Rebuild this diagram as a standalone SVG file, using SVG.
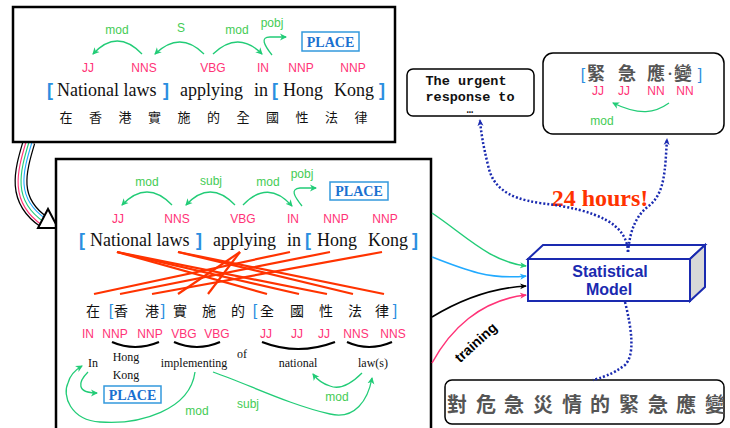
<svg xmlns="http://www.w3.org/2000/svg" width="730" height="428" viewBox="0 0 730 428">
  <defs>
    <marker id="ag" markerWidth="8" markerHeight="8" refX="6" refY="4" orient="auto" markerUnits="userSpaceOnUse">
      <path d="M0,0.5 L7,4 L0,7.5 L2,4 Z" fill="#22cc77"/>
    </marker>
    <marker id="ac" markerWidth="8" markerHeight="8" refX="6" refY="4" orient="auto" markerUnits="userSpaceOnUse">
      <path d="M0,1 L7,4 L0,7 L2,4 Z" fill="#22aaff"/>
    </marker>
    <marker id="ak" markerWidth="8" markerHeight="8" refX="6" refY="4" orient="auto" markerUnits="userSpaceOnUse">
      <path d="M0,1 L7,4 L0,7 L2,4 Z" fill="#000"/>
    </marker>
    <marker id="ap" markerWidth="8" markerHeight="8" refX="6" refY="4" orient="auto" markerUnits="userSpaceOnUse">
      <path d="M0,1 L7,4 L0,7 L2,4 Z" fill="#ff3377"/>
    </marker>
    <marker id="agr" markerWidth="8" markerHeight="8" refX="6" refY="4" orient="auto" markerUnits="userSpaceOnUse">
      <path d="M0,1 L7,4 L0,7 L2,4 Z" fill="#22cc77"/>
    </marker>
    <marker id="ab" markerWidth="8" markerHeight="8" refX="6" refY="4" orient="auto" markerUnits="userSpaceOnUse">
      <path d="M0,1 L7,4 L0,7 L2,4 Z" fill="#1a2ab0"/>
    </marker>
  </defs>
  <style>
    .frame { fill: #fff; stroke: #000; stroke-width: 2.5; }
    .rbox { fill: #fff; stroke: #000; stroke-width: 1.5; }
    .pos { font-family: "Liberation Sans", Arial, sans-serif; font-size: 12px; fill: #ff3377; text-anchor: middle; }
    .lab { font-family: "Liberation Sans", Arial, sans-serif; font-size: 12px; fill: #44cc55; text-anchor: middle; }
    .en { font-family: "Liberation Serif", "Times New Roman", serif; font-size: 18px; fill: #111; }
    .gl { font-family: "Liberation Serif", "Times New Roman", serif; font-size: 12px; fill: #111; text-anchor: middle; }
    .br { font-family: "Liberation Sans", Arial, sans-serif; font-size: 18px; font-weight: bold; fill: #2a8ee0; }
    .brz { font-family: "Liberation Sans", Arial, sans-serif; font-size: 16px; fill: #2a8ee0; text-anchor: middle; }
    .zh { font-family: "Noto Sans CJK TC", "Noto Sans CJK SC", sans-serif; fill: #111; text-anchor: middle; }
    .arc { fill: none; stroke: #22cc77; stroke-width: 1.3; marker-end: url(#ag); }
    .place { fill: #fff; stroke: #3399dd; stroke-width: 1.5; }
    .placet { font-family: "Liberation Serif", "Times New Roman", serif; font-size: 14px; font-weight: bold; fill: #1a70d0; text-anchor: middle; }
    .align { stroke: #ff3300; stroke-width: 2.2; fill: none; }
    .brace { fill: none; stroke: #000; stroke-width: 2.2; }
    .dot { fill: none; stroke: #1a2ab0; stroke-width: 2.5; stroke-dasharray: 2 2; }
  </style>

  <!-- transfer arrow between the two parse panels -->
  <g id="transfer">
    <path d="M29,142 C20,172 12,200 44,222" fill="none" stroke="#000" stroke-width="13"/>
    <path d="M29,142 C20,172 12,200 44,222" fill="none" stroke="#fff" stroke-width="10.5"/>
    <path d="M26,142 C17,172 9,202 42,225" fill="none" stroke="#ff3377" stroke-width="1.1"/>
    <path d="M29,142 C20,172 12,200 44,222" fill="none" stroke="#22cc77" stroke-width="1.1"/>
    <path d="M32,142 C23,172 15,198 46,219" fill="none" stroke="#22aaff" stroke-width="1.1"/>
    <path d="M38,228 L58,228 L48,209 Z" fill="#fff" stroke="#000" stroke-width="2"/>
  </g>

  <!-- English parse panel -->
  <g id="english-panel">
    <rect class="frame" x="13" y="7" width="382" height="135"/>
    <path class="arc" d="M142,54 Q117,28 93,54"/>
    <path class="arc" d="M204,54 Q180,30 155,54"/>
    <path class="arc" d="M213,54 Q238,30 262,54"/>
    <path class="arc" d="M272,55 C264,45 260,37 270,37 L286,37"/>
    <text class="lab" x="117" y="34">mod</text>
    <text class="lab" x="181" y="32">S</text>
    <text class="lab" x="237" y="34">mod</text>
    <text class="lab" x="272" y="27">pobj</text>
    <rect class="place" x="302" y="32" width="57" height="19"/>
    <text class="placet" x="330.5" y="47">PLACE</text>
    <text class="pos" x="88" y="72">JJ</text>
    <text class="pos" x="144" y="72">NNS</text>
    <text class="pos" x="213" y="72">VBG</text>
    <text class="pos" x="263" y="72">IN</text>
    <text class="pos" x="301" y="72">NNP</text>
    <text class="pos" x="353" y="72">NNP</text>
    <text class="br" x="47" y="96">[</text>
    <text class="en" x="57" y="96">National laws</text>
    <text class="br" x="163" y="96">]</text>
    <text class="en" x="180" y="96">applying</text>
    <text class="en" x="254" y="96">in</text>
    <text class="br" x="272" y="96">[</text>
    <text class="en" x="283" y="96">Hong</text>
    <text class="en" x="334" y="96">Kong</text>
    <text class="br" x="379" y="96">]</text>
    <g class="zh" font-size="13">
      <text x="66" y="122">在</text>
      <text x="95.5" y="122">香</text>
      <text x="125" y="122">港</text>
      <text x="154.5" y="122">實</text>
      <text x="184" y="122">施</text>
      <text x="213.5" y="122">的</text>
      <text x="243" y="122">全</text>
      <text x="272.5" y="122">國</text>
      <text x="302" y="122">性</text>
      <text x="331.5" y="122">法</text>
      <text x="361" y="122">律</text>
    </g>
  </g>

  <!-- aligned bilingual panel -->
  <g id="aligned-panel">
    <rect class="frame" x="56" y="159" width="375" height="290"/>
    <path class="arc" d="M172,205 Q147,179 122,205"/>
    <path class="arc" d="M235,205 Q210,179 186,205"/>
    <path class="arc" d="M243,205 Q268,179 292,206"/>
    <path class="arc" d="M302,206 C294,196 290,189 300,188 L316,188"/>
    <text class="lab" x="147" y="186">mod</text>
    <text class="lab" x="211" y="185">subj</text>
    <text class="lab" x="268" y="186">mod</text>
    <text class="lab" x="302" y="178">pobj</text>
    <rect class="place" x="330" y="182" width="58" height="18"/>
    <text class="placet" x="359" y="196">PLACE</text>
    <text class="pos" x="118" y="223">JJ</text>
    <text class="pos" x="177" y="223">NNS</text>
    <text class="pos" x="243" y="223">VBG</text>
    <text class="pos" x="293" y="223">IN</text>
    <text class="pos" x="336" y="223">NNP</text>
    <text class="pos" x="385" y="223">NNP</text>
    <text class="br" x="79" y="246">[</text>
    <text class="en" x="90" y="246">National laws</text>
    <text class="br" x="196" y="246">]</text>
    <text class="en" x="213" y="246">applying</text>
    <text class="en" x="287" y="246">in</text>
    <text class="br" x="305" y="246">[</text>
    <text class="en" x="317" y="246">Hong</text>
    <text class="en" x="368" y="246">Kong</text>
    <text class="br" x="412" y="246">]</text>

    <!-- word alignments -->
    <g class="align">
      <line x1="290" y1="252" x2="94" y2="294"/>
      <line x1="330" y1="252" x2="120" y2="294"/>
      <line x1="382" y1="252" x2="152" y2="294"/>
      <line x1="240" y1="252" x2="178" y2="294"/>
      <line x1="240" y1="252" x2="208" y2="294"/>
      <line x1="117" y1="252" x2="267" y2="294"/>
      <line x1="117" y1="252" x2="299" y2="294"/>
      <line x1="117" y1="252" x2="327" y2="294"/>
      <line x1="178" y1="252" x2="353" y2="294"/>
      <line x1="178" y1="252" x2="384" y2="294"/>
    </g>

    <g class="zh" font-size="14">
      <text x="93" y="316">在</text>
      <text x="121" y="316">香</text>
      <text x="152" y="316">港</text>
      <text x="180" y="316">實</text>
      <text x="209" y="316">施</text>
      <text x="238" y="316">的</text>
      <text x="267" y="316">全</text>
      <text x="297" y="316">國</text>
      <text x="326" y="316">性</text>
      <text x="355" y="316">法</text>
      <text x="382" y="316">律</text>
    </g>
    <text class="brz" x="111" y="316">[</text>
    <text class="brz" x="163" y="316">]</text>
    <text class="brz" x="255" y="316">[</text>
    <text class="brz" x="395" y="316">]</text>

    <text class="pos" x="88" y="338">IN</text>
    <text class="pos" x="115" y="338">NNP</text>
    <text class="pos" x="150" y="338">NNP</text>
    <text class="pos" x="184" y="338">VBG</text>
    <text class="pos" x="217" y="338">VBG</text>
    <text class="pos" x="266" y="338">JJ</text>
    <text class="pos" x="297" y="338">JJ</text>
    <text class="pos" x="324" y="338">JJ</text>
    <text class="pos" x="356" y="338">NNS</text>
    <text class="pos" x="393" y="338">NNS</text>

    <path class="brace" d="M112,342 Q135,352 159,342"/>
    <path class="brace" d="M174,342 Q197,352 220,342"/>
    <path class="brace" d="M262,342 Q298,356 335,342"/>
    <path class="brace" d="M347,342 Q369,352 392,342"/>

    <text class="gl" x="93" y="367">In</text>
    <text class="gl" x="126" y="361">Hong</text>
    <text class="gl" x="126" y="379">Kong</text>
    <text class="gl" x="194" y="367">implementing</text>
    <text class="gl" x="242" y="358">of</text>
    <text class="gl" x="298" y="367">national</text>
    <text class="gl" x="373" y="367">law(s)</text>

    <rect class="place" x="104" y="386" width="57" height="17"/>
    <text class="placet" x="132.5" y="400">PLACE</text>

    <path class="arc" d="M88,372 C78,382 76,393 97,393"/>
    <path class="arc" d="M195,372 C190,410 140,425 100,422 C70,420 62,395 68,383 C70,375 75,370 82,366"/>
    <path class="arc" d="M213,372 C250,385 290,405 330,414 C355,420 368,400 372,378"/>
    <path class="arc" d="M362,373 C350,385 340,390 330,386 C320,383 316,378 313,374"/>
    <text class="lab" x="197" y="415">mod</text>
    <text class="lab" x="248" y="408">subj</text>
    <text class="lab" x="337" y="401">mod</text>
  </g>

  <!-- English translation output -->
  <g id="english-output">
    <rect class="rbox" x="407" y="69" width="127" height="47" rx="6"/>
    <g font-family="'Liberation Mono', 'Courier New', monospace" font-weight="bold" fill="#111" text-anchor="middle">
      <text x="466" y="85" font-size="13.5">The urgent</text>
      <text x="470" y="101" font-size="13.5">response to</text>
      <text x="470" y="113" font-size="10.5">…</text>
    </g>
  </g>

  <!-- Chinese parse output -->
  <g id="chinese-output">
    <rect class="rbox" x="543" y="53" width="181" height="81" rx="10"/>
    <text class="brz" x="583" y="80">[</text>
    <g class="zh" font-size="18" fill="#555" font-weight="bold">
      <text x="596" y="80" fill="#555">緊</text>
      <text x="627" y="80" fill="#555">急</text>
      <text x="656" y="80" fill="#555">應</text>
      <text x="670" y="78" fill="#555" font-size="10">·</text>
      <text x="683" y="80" fill="#555">變</text>
    </g>
    <text class="brz" x="700" y="80">]</text>
    <text class="pos" x="598" y="95">JJ</text>
    <text class="pos" x="624" y="95">JJ</text>
    <text class="pos" x="656" y="95">NN</text>
    <text class="pos" x="685" y="95">NN</text>
    <path class="arc" d="M669,103 C655,113 640,116 613,103"/>
    <text class="lab" x="602" y="125">mod</text>
  </g>

  <!-- statistical model -->
  <g id="model">
    <path d="M528,259 L543,245 L705,245 L690,259 Z" fill="#fff" stroke="#1a2ab0" stroke-width="2"/>
    <path d="M690,259 L705,245 L705,287 L690,301 Z" fill="#d8d8d8" stroke="#1a2ab0" stroke-width="2"/>
    <rect x="528" y="259" width="162" height="42" fill="#fff" stroke="#1a2ab0" stroke-width="2"/>
    <g font-family="'Liberation Sans', Arial, sans-serif" font-size="16" font-weight="bold" fill="#1a2ab0" text-anchor="middle">
      <text x="610" y="277">Statistical</text>
      <text x="609" y="295">Model</text>
    </g>
  </g>

  <!-- Chinese input sentence -->
  <g id="chinese-input">
    <rect class="rbox" x="445" y="380" width="279" height="44" rx="7"/>
    <g class="zh" font-size="20" fill="#555" font-weight="bold">
      <text x="457" y="412" fill="#555">對</text>
      <text x="486" y="412" fill="#555">危</text>
      <text x="514" y="412" fill="#555">急</text>
      <text x="543" y="412" fill="#555">災</text>
      <text x="572" y="412" fill="#555">情</text>
      <text x="600" y="412" fill="#555">的</text>
      <text x="629" y="412" fill="#555">緊</text>
      <text x="658" y="412" fill="#555">急</text>
      <text x="686" y="412" fill="#555">應</text>
      <text x="715" y="412" fill="#555">變</text>
    </g>
  </g>

  <text x="600" y="206" font-family="'Liberation Serif', 'Times New Roman', serif" font-size="24" font-weight="bold" fill="#ff3300" text-anchor="middle">24 hours!</text>
  <text transform="translate(479,346) rotate(-42)" font-family="'Liberation Sans', Arial, sans-serif" font-size="14" font-weight="bold" fill="#000" text-anchor="middle">training</text>

  <!-- connectors -->
  <g id="connectors">
    <path d="M432,213 C465,235 490,262 526,266" fill="none" stroke="#22cc77" stroke-width="1.5" marker-end="url(#agr)"/>
    <path d="M432,257 C465,270 490,280 526,276" fill="none" stroke="#22aaff" stroke-width="1.5" marker-end="url(#ac)"/>
    <path d="M432,317 C460,300 490,288 526,286" fill="none" stroke="#000" stroke-width="1.5" marker-end="url(#ak)"/>
    <path d="M432,363 C450,330 480,300 526,295" fill="none" stroke="#ff3377" stroke-width="1.5" marker-end="url(#ap)"/>
    <path class="dot" d="M628,252 C627,225 600,210 540,203 C505,198 492,185 488,165 C483,145 481,132 480,120" marker-end="url(#ab)"/>
    <path class="dot" d="M628,252 C630,230 636,215 650,205 C665,192 665,170 667,139" marker-end="url(#ab)"/>
    <path class="dot" d="M625,302 C632,330 635,355 625,365 C612,375 600,378 593,380"/>
  </g>
</svg>
